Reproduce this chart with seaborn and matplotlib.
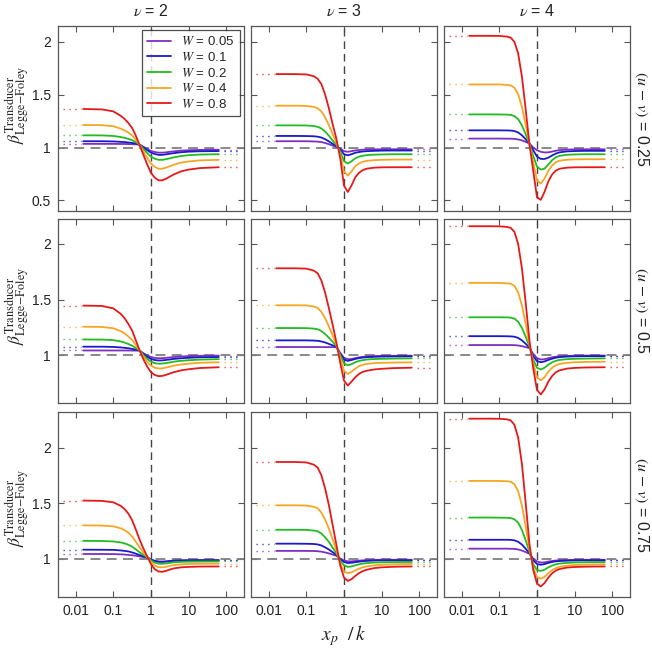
import numpy as np
import pandas as pd
import matplotlib
matplotlib.use("Agg")
import matplotlib.pyplot as plt
import seaborn as sns
from matplotlib.ticker import LogLocator, NullFormatter, FixedLocator, FixedFormatter

# ---------------- data ----------------
X_GRID = [0.0158, 0.05, 0.1, 0.158, 0.2, 0.251, 0.316, 0.398, 0.501, 0.631, 0.794,
          1.0, 1.26, 1.58, 2.0, 2.51, 3.16, 3.98, 6.31, 10.0, 20.0, 63.1]
W_VALUES = ["0.05", "0.1", "0.2", "0.4", "0.8"]
COLORS = ["#7f2fc0", "#1a1acc", "#22bb22", "#f5a623", "#e41a1a"]
V_VALUES = [2, 3, 4]
UV_VALUES = ["0.25", "0.5", "0.75"]
X_TICKS = [0.01, 0.1, 1, 10, 100]
X_TICKLABELS = ["0.01", "0.1", "1", "10", "100"]
Y_TICKS = [0.5, 1, 1.5, 2]
Y_TICKLABELS = ["0.5", "1", "1.5", "2"]

# row (u - v) = 0.25
beta_v2_uv025 = [
    [1.035, 1.035, 1.035, 1.034, 1.034, 1.033, 1.032, 1.031, 1.028, 1.007, 0.986, 0.968, 0.958, 0.952, 0.952, 0.955, 0.96, 0.964, 0.971, 0.975, 0.978, 0.98],
    [1.06, 1.06, 1.058, 1.054, 1.052, 1.048, 1.044, 1.037, 1.027, 1.001, 0.975, 0.952, 0.939, 0.931, 0.931, 0.936, 0.942, 0.947, 0.956, 0.961, 0.965, 0.967],
    [1.116, 1.115, 1.11, 1.099, 1.092, 1.082, 1.07, 1.051, 1.026, 0.987, 0.948, 0.914, 0.895, 0.884, 0.884, 0.89, 0.899, 0.907, 0.92, 0.928, 0.934, 0.937],
    [1.214, 1.212, 1.202, 1.179, 1.162, 1.141, 1.115, 1.074, 1.023, 0.962, 0.902, 0.847, 0.817, 0.80, 0.80, 0.81, 0.824, 0.837, 0.858, 0.869, 0.879, 0.884],
    [1.365, 1.361, 1.342, 1.30, 1.27, 1.232, 1.185, 1.11, 1.02, 0.93, 0.84, 0.76, 0.715, 0.69, 0.69, 0.705, 0.725, 0.745, 0.775, 0.792, 0.806, 0.814],
]
beta_v3_uv025 = [
    [1.06, 1.06, 1.06, 1.058, 1.056, 1.052, 1.043, 1.032, 1.019, 1.007, 0.99, 0.966, 0.96, 0.966, 0.973, 0.977, 0.98, 0.982, 0.983, 0.984, 0.984, 0.984],
    [1.11, 1.11, 1.109, 1.107, 1.103, 1.095, 1.079, 1.058, 1.035, 1.013, 0.983, 0.937, 0.927, 0.937, 0.951, 0.958, 0.963, 0.966, 0.969, 0.971, 0.972, 0.972],
    [1.21, 1.21, 1.209, 1.204, 1.196, 1.181, 1.151, 1.112, 1.066, 1.024, 0.964, 0.87, 0.849, 0.87, 0.899, 0.914, 0.923, 0.928, 0.933, 0.935, 0.937, 0.937],
    [1.396, 1.396, 1.394, 1.385, 1.371, 1.342, 1.285, 1.211, 1.125, 1.046, 0.937, 0.773, 0.735, 0.773, 0.824, 0.85, 0.866, 0.874, 0.881, 0.884, 0.886, 0.887],
    [1.695, 1.695, 1.692, 1.675, 1.65, 1.60, 1.50, 1.37, 1.22, 1.08, 0.90, 0.64, 0.58, 0.64, 0.72, 0.762, 0.787, 0.80, 0.81, 0.813, 0.814, 0.814],
]
beta_v4_uv025 = [
    [1.085, 1.085, 1.085, 1.084, 1.084, 1.082, 1.077, 1.068, 1.054, 1.038, 1.0, 0.975, 0.96, 0.954, 0.955, 0.962, 0.97, 0.976, 0.981, 0.983, 0.984, 0.984],
    [1.163, 1.163, 1.163, 1.162, 1.161, 1.156, 1.143, 1.116, 1.079, 1.037, 0.975, 0.915, 0.893, 0.892, 0.905, 0.925, 0.943, 0.955, 0.964, 0.967, 0.969, 0.969],
    [1.314, 1.314, 1.313, 1.312, 1.309, 1.298, 1.269, 1.209, 1.126, 1.035, 0.92, 0.82, 0.792, 0.80, 0.84, 0.88, 0.908, 0.922, 0.932, 0.935, 0.937, 0.937],
    [1.597, 1.597, 1.597, 1.593, 1.588, 1.566, 1.506, 1.385, 1.215, 1.033, 0.86, 0.69, 0.66, 0.705, 0.78, 0.83, 0.862, 0.876, 0.885, 0.888, 0.89, 0.89],
    [2.057, 2.057, 2.056, 2.05, 2.04, 2.0, 1.89, 1.67, 1.36, 1.03, 0.78, 0.53, 0.505, 0.58, 0.68, 0.745, 0.782, 0.80, 0.81, 0.813, 0.814, 0.814],
]
# row (u - v) = 0.5
beta_v2_uv05 = [
    [1.041, 1.041, 1.041, 1.041, 1.041, 1.041, 1.04, 1.04, 1.039, 1.016, 0.997, 0.982, 0.974, 0.971, 0.972, 0.975, 0.978, 0.982, 0.987, 0.99, 0.993, 0.995],
    [1.075, 1.075, 1.073, 1.068, 1.065, 1.061, 1.055, 1.048, 1.04, 1.009, 0.984, 0.965, 0.955, 0.951, 0.952, 0.956, 0.96, 0.965, 0.971, 0.975, 0.98, 0.982],
    [1.14, 1.139, 1.134, 1.122, 1.112, 1.099, 1.084, 1.062, 1.04, 0.999, 0.965, 0.94, 0.927, 0.922, 0.923, 0.928, 0.933, 0.94, 0.948, 0.953, 0.959, 0.963],
    [1.255, 1.253, 1.241, 1.215, 1.194, 1.167, 1.135, 1.088, 1.04, 0.984, 0.939, 0.904, 0.886, 0.879, 0.88, 0.887, 0.895, 0.904, 0.915, 0.922, 0.93, 0.935],
    [1.445, 1.442, 1.42, 1.37, 1.33, 1.28, 1.22, 1.13, 1.04, 0.96, 0.895, 0.845, 0.82, 0.81, 0.812, 0.822, 0.833, 0.845, 0.862, 0.872, 0.883, 0.89],
]
beta_v3_uv05 = [
    [1.072, 1.072, 1.072, 1.072, 1.072, 1.072, 1.071, 1.071, 1.071, 1.07, 1.02, 0.975, 0.962, 0.964, 0.972, 0.979, 0.984, 0.987, 0.99, 0.992, 0.993, 0.994],
    [1.132, 1.132, 1.132, 1.13, 1.128, 1.122, 1.113, 1.1, 1.087, 1.073, 1.01, 0.96, 0.947, 0.955, 0.965, 0.972, 0.977, 0.98, 0.984, 0.986, 0.987, 0.988],
    [1.243, 1.243, 1.242, 1.238, 1.232, 1.216, 1.189, 1.155, 1.119, 1.08, 1.0, 0.925, 0.907, 0.918, 0.935, 0.947, 0.954, 0.959, 0.964, 0.966, 0.968, 0.97],
    [1.448, 1.448, 1.447, 1.437, 1.424, 1.389, 1.331, 1.256, 1.176, 1.091, 0.971, 0.857, 0.83, 0.85, 0.878, 0.9, 0.912, 0.92, 0.927, 0.93, 0.932, 0.934],
    [1.781, 1.781, 1.778, 1.76, 1.736, 1.67, 1.56, 1.42, 1.27, 1.11, 0.93, 0.77, 0.725, 0.76, 0.80, 0.83, 0.848, 0.858, 0.87, 0.876, 0.882, 0.886],
]
beta_v4_uv05 = [
    [1.09, 1.09, 1.09, 1.09, 1.09, 1.089, 1.086, 1.08, 1.071, 1.062, 1.01, 0.972, 0.96, 0.962, 0.971, 0.979, 0.985, 0.989, 0.992, 0.994, 0.995, 0.995],
    [1.17, 1.17, 1.17, 1.169, 1.168, 1.165, 1.154, 1.132, 1.101, 1.067, 0.99, 0.945, 0.935, 0.942, 0.956, 0.967, 0.976, 0.981, 0.986, 0.988, 0.99, 0.99],
    [1.34, 1.34, 1.34, 1.339, 1.337, 1.328, 1.3, 1.244, 1.165, 1.078, 0.96, 0.885, 0.87, 0.885, 0.913, 0.934, 0.948, 0.956, 0.963, 0.966, 0.968, 0.97],
    [1.65, 1.65, 1.649, 1.646, 1.642, 1.623, 1.564, 1.446, 1.28, 1.098, 0.93, 0.80, 0.772, 0.80, 0.85, 0.885, 0.908, 0.92, 0.93, 0.935, 0.938, 0.94],
    [2.16, 2.16, 2.159, 2.154, 2.145, 2.11, 2.0, 1.78, 1.47, 1.13, 0.88, 0.685, 0.645, 0.69, 0.76, 0.81, 0.845, 0.862, 0.878, 0.884, 0.888, 0.89],
]
# row (u - v) = 0.75
beta_v2_uv075 = [
    [1.042, 1.042, 1.041, 1.039, 1.037, 1.034, 1.031, 1.026, 1.02, 1.015, 1.011, 0.993, 0.98, 0.974, 0.973, 0.975, 0.979, 0.982, 0.984, 0.986, 0.987, 0.987],
    [1.081, 1.08, 1.079, 1.074, 1.07, 1.065, 1.056, 1.045, 1.032, 1.021, 1.011, 0.992, 0.979, 0.973, 0.972, 0.974, 0.978, 0.981, 0.984, 0.985, 0.986, 0.986],
    [1.16, 1.159, 1.155, 1.146, 1.137, 1.125, 1.108, 1.083, 1.057, 1.033, 1.013, 0.984, 0.964, 0.955, 0.954, 0.957, 0.962, 0.967, 0.971, 0.973, 0.974, 0.975],
    [1.30, 1.298, 1.291, 1.273, 1.256, 1.233, 1.199, 1.151, 1.10, 1.055, 1.016, 0.969, 0.938, 0.924, 0.922, 0.927, 0.935, 0.942, 0.949, 0.952, 0.954, 0.955],
    [1.523, 1.52, 1.507, 1.475, 1.445, 1.405, 1.345, 1.26, 1.17, 1.09, 1.02, 0.95, 0.905, 0.885, 0.882, 0.89, 0.902, 0.912, 0.922, 0.926, 0.929, 0.93],
]
beta_v3_uv075 = [
    [1.07, 1.07, 1.07, 1.069, 1.067, 1.063, 1.056, 1.047, 1.037, 1.026, 1.0, 0.983, 0.976, 0.976, 0.979, 0.982, 0.985, 0.987, 0.989, 0.99, 0.99, 0.99],
    [1.135, 1.135, 1.134, 1.132, 1.128, 1.119, 1.102, 1.082, 1.058, 1.034, 0.995, 0.97, 0.961, 0.963, 0.968, 0.973, 0.977, 0.98, 0.983, 0.984, 0.985, 0.985],
    [1.26, 1.26, 1.259, 1.253, 1.246, 1.226, 1.192, 1.15, 1.099, 1.048, 0.98, 0.94, 0.926, 0.93, 0.94, 0.949, 0.956, 0.96, 0.965, 0.967, 0.969, 0.97],
    [1.48, 1.48, 1.478, 1.467, 1.453, 1.415, 1.35, 1.269, 1.171, 1.074, 0.96, 0.885, 0.87, 0.877, 0.895, 0.91, 0.922, 0.93, 0.94, 0.945, 0.949, 0.952],
    [1.87, 1.87, 1.866, 1.846, 1.82, 1.75, 1.63, 1.48, 1.30, 1.12, 0.94, 0.83, 0.80, 0.815, 0.845, 0.87, 0.888, 0.90, 0.915, 0.922, 0.927, 0.93],
]
beta_v4_uv075 = [
    [1.09, 1.09, 1.09, 1.09, 1.089, 1.088, 1.083, 1.073, 1.059, 1.044, 1.0, 0.975, 0.965, 0.967, 0.974, 0.979, 0.983, 0.986, 0.988, 0.989, 0.99, 0.99],
    [1.17, 1.17, 1.17, 1.17, 1.169, 1.165, 1.152, 1.127, 1.089, 1.05, 0.985, 0.952, 0.945, 0.951, 0.962, 0.97, 0.976, 0.979, 0.982, 0.984, 0.985, 0.985],
    [1.37, 1.37, 1.369, 1.368, 1.365, 1.355, 1.324, 1.259, 1.164, 1.064, 0.95, 0.898, 0.89, 0.90, 0.922, 0.938, 0.949, 0.956, 0.962, 0.966, 0.968, 0.97],
    [1.70, 1.70, 1.699, 1.697, 1.692, 1.67, 1.608, 1.478, 1.289, 1.089, 0.92, 0.835, 0.82, 0.835, 0.87, 0.897, 0.915, 0.927, 0.937, 0.943, 0.947, 0.95],
    [2.26, 2.26, 2.259, 2.254, 2.245, 2.205, 2.09, 1.85, 1.50, 1.13, 0.90, 0.775, 0.75, 0.78, 0.83, 0.868, 0.893, 0.907, 0.92, 0.925, 0.928, 0.93],
]

PANELS = [
    [beta_v2_uv025, beta_v3_uv025, beta_v4_uv025],
    [beta_v2_uv05, beta_v3_uv05, beta_v4_uv05],
    [beta_v2_uv075, beta_v3_uv075, beta_v4_uv075],
]
ROW_YLIMS = [(0.40, 2.15), (0.568, 2.225), (0.655, 2.32)]

# ---------------- style ----------------
sns.set_theme(style="white")
plt.rcParams["font.family"] = ["Liberation Sans", "DejaVu Sans"]
plt.rcParams["mathtext.fontset"] = "stix"
plt.rcParams["axes.edgecolor"] = "#555555"
plt.rcParams["axes.linewidth"] = 0.9

W_LABELS = [r"$W$ = " + w for w in W_VALUES]

fig = plt.figure(figsize=(6.52, 6.56), dpi=100)
FW, FH = 652.0, 656.0
col_left = [58, 251, 444]
row_top = [26, 219, 412]
row_bot = [211, 403, 597]
width = 186

x_lo, x_hi = 10 ** -2.47, 10 ** 2.47
dot_left = (0.0046, 0.0135)
dot_right = (85.0, 250.0)

for i in range(3):
    for j in range(3):
        l = col_left[j] / FW
        b = (FH - row_bot[i]) / FH
        h = (row_bot[i] - row_top[i]) / FH
        ax = fig.add_axes([l, b, width / FW, h])
        curves = PANELS[i][j]
        recs = []
        for k, wl in enumerate(W_LABELS):
            for xv, yv in zip(X_GRID, curves[k]):
                recs.append({"x": xv, "beta": yv, "W": wl})
        df = pd.DataFrame(recs)
        ax.set_xscale("log")
        ax.axhline(1.0, color="#808080", lw=1.3, dashes=(5.5, 3.5), zorder=1)
        ax.axvline(1.0, color="#444444", lw=1.0, dashes=(5.5, 3.5), zorder=1)
        sns.lineplot(data=df, x="x", y="beta", hue="W", hue_order=W_LABELS,
                     palette=COLORS, ax=ax, estimator=None, sort=False,
                     linewidth=1.3, legend=(i == 0 and j == 0), zorder=3)
        # dotted asymptote markers
        for k in range(5):
            ax.plot(dot_left, [curves[k][0]] * 2, color=COLORS[k], lw=1.0,
                    ls=(0, (1, 3.2)), alpha=0.8, zorder=2)
            ax.plot(dot_right, [curves[k][-1]] * 2, color=COLORS[k], lw=1.0,
                    ls=(0, (1, 3.2)), alpha=0.8, zorder=2)
        ax.set_xlim(x_lo, x_hi)
        ax.set_ylim(*ROW_YLIMS[i])
        ax.xaxis.set_major_locator(FixedLocator(X_TICKS))
        ax.xaxis.set_minor_locator(LogLocator(base=10, subs=np.arange(2, 10)))
        ax.xaxis.set_minor_formatter(NullFormatter())
        ax.yaxis.set_major_locator(FixedLocator(Y_TICKS))
        if i == 2:
            ax.xaxis.set_major_formatter(FixedFormatter(X_TICKLABELS))
        else:
            ax.xaxis.set_major_formatter(NullFormatter())
        if j == 0:
            ax.yaxis.set_major_formatter(FixedFormatter(Y_TICKLABELS))
        else:
            ax.yaxis.set_major_formatter(NullFormatter())
        ax.tick_params(which="both", direction="in", top=True, right=True,
                       bottom=True, left=True, colors="#555555",
                       labelcolor="#222222", labelsize=10, pad=5)
        ax.tick_params(which="major", length=4, width=0.8)
        ax.tick_params(which="minor", length=2, width=0.6)
        ax.set_xlabel("")
        ax.set_ylabel("")
        for s in ax.spines.values():
            s.set_visible(True)
            s.set_color("#555555")
        if i == 0 and j == 0:
            leg = ax.legend(loc="upper right", fontsize=9.5, frameon=True,
                            fancybox=False, edgecolor="#222222",
                            handlelength=1.8, handletextpad=0.8,
                            labelspacing=0.2, borderpad=0.4,
                            borderaxespad=0.3)
            leg.get_frame().set_linewidth(0.9)
            for line in leg.get_lines():
                line.set_linewidth(1.3)
        if i == 0:
            ax.set_title(r"$\nu$ = %d" % V_VALUES[j], fontsize=11.5, pad=7,
                         color="#222222")

# row labels on the right
row_label_center = [118.5, 311, 504.5]
for i in range(3):
    fig.text(641 / FW, 1 - row_label_center[i] / FH,
             r"$(u\,-\,v)$ = " + UV_VALUES[i], rotation=270,
             ha="center", va="center", fontsize=11.5, color="#222222")

# y labels on the left
ylabel_center = [105, 306, 508]
for i in range(3):
    fig.text(17 / FW, 1 - ylabel_center[i] / FH,
             r"$\beta^{\mathrm{Transducer}}_{\mathrm{Legge\!-\!Foley}}$",
             rotation=90, ha="center", va="center", fontsize=12.5,
             color="#222222")

# x label
fig.text(344 / FW, 1 - 636 / FH, r"$x_{p}\ \ /\,k$", ha="center",
         va="center", fontsize=14, color="#222222")

fig.savefig("out.png", dpi=100)
